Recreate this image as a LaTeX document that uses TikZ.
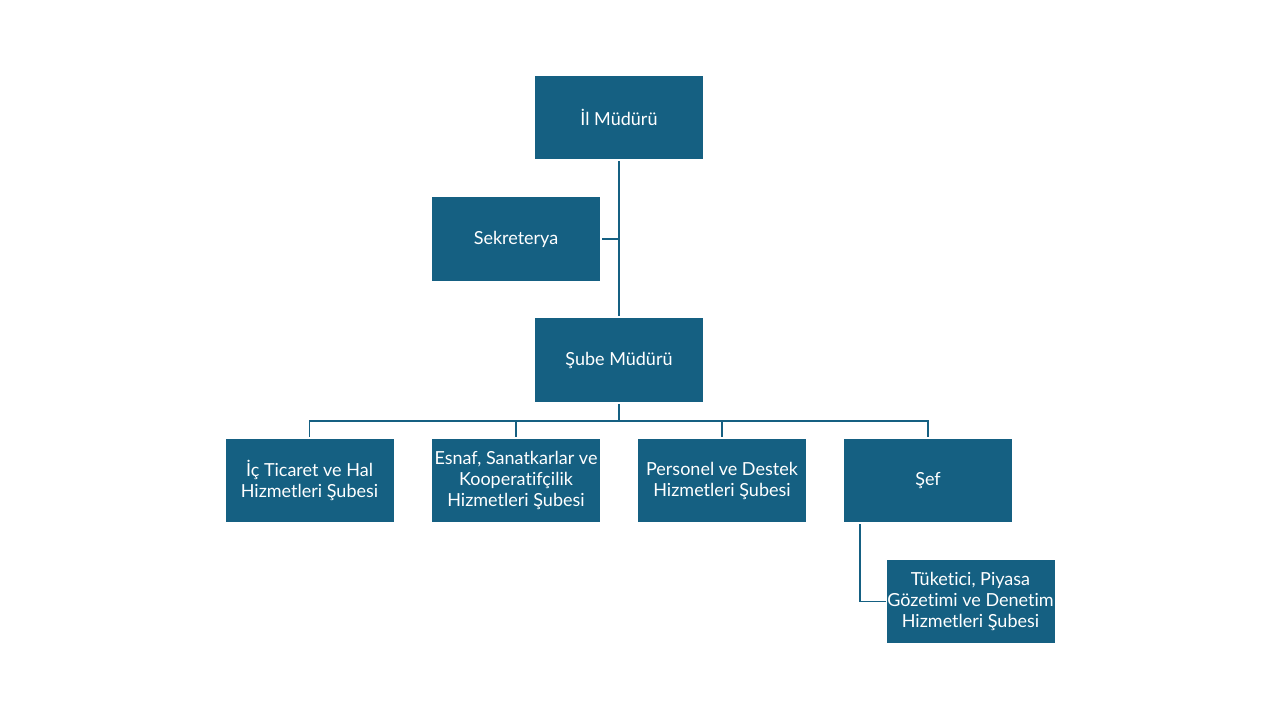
\documentclass[tikz,border=0pt]{standalone}
\usepackage{fontspec}
\setmainfont{Lato}[Ligatures=NoCommon]
\usetikzlibrary{positioning}
\definecolor{unitblue}{HTML}{156082}

\begin{document}
\begin{tikzpicture}[
    x=0.75pt, y=-0.75pt, % pixel grid of the slide
    % --- UNIT STYLES ---
    unit/.style={rectangle, fill=unitblue, text=white, minimum width=126pt, minimum height=62.5pt, inner sep=0.5pt, align=center, font=\fontsize{13.5}{15.75}\selectfont},
    link/.style={draw=unitblue, line width=1.2pt}
]
\useasboundingbox (0,0) rectangle (1280,720);

% --- 1. TOP MANAGEMENT ---
\node (il_muduru) [unit] at (619,117.5) {İl Müdürü};
\node (sekreterya) [unit] at (516,239) {Sekreterya};
\node (sube_muduru) [unit] at (619,360) {Şube Müdürü};

% --- 2. BRANCHES ---
\node (ic_ticaret) [unit] at (309.5,480.5) {İç Ticaret ve Hal\\Hizmetleri Şubesi};
\node (esnaf) [unit] at (516,480.5) {Esnaf, Sanatkarlar ve\\Kooperatifçilik\\Hizmetleri Şubesi};
\node (personel) [unit] at (722,480.5) {Personel ve Destek\\Hizmetleri Şubesi};
\node (sef) [unit] at (928,480.5) {Şef};
\node (tuketici) [unit] at (970.5,601.5) {Tüketici, Piyasa\\Gözetimi ve Denetim\\Hizmetleri Şubesi};

% --- CONNECTORS ---
\coordinate (trunk) at (619,239);
\coordinate (bus) at (619,421);

% 1. Main trunk with secretary
\draw [link] ([yshift=-1.5pt]il_muduru.south) -- ([yshift=1.5pt]sube_muduru.north);
\draw [link] ([xshift=1.5pt]sekreterya.east) -- (trunk);

% 2. Branch bus
\draw [link] ([yshift=-1.5pt]sube_muduru.south) -- (bus);
\draw [link] ([yshift=1.5pt]ic_ticaret.north) |- (bus) -| ([yshift=1.5pt]sef.north);
\draw [link] ([yshift=1.5pt]esnaf.north) -- (esnaf.north |- bus);
\draw [link] ([yshift=1.5pt]personel.north) -- (personel.north |- bus);

% 3. Chief to consumer branch
\draw [link] ([xshift=12pt,yshift=-1.5pt]sef.south west) |- (tuketici.west);

\end{tikzpicture}
\end{document}
